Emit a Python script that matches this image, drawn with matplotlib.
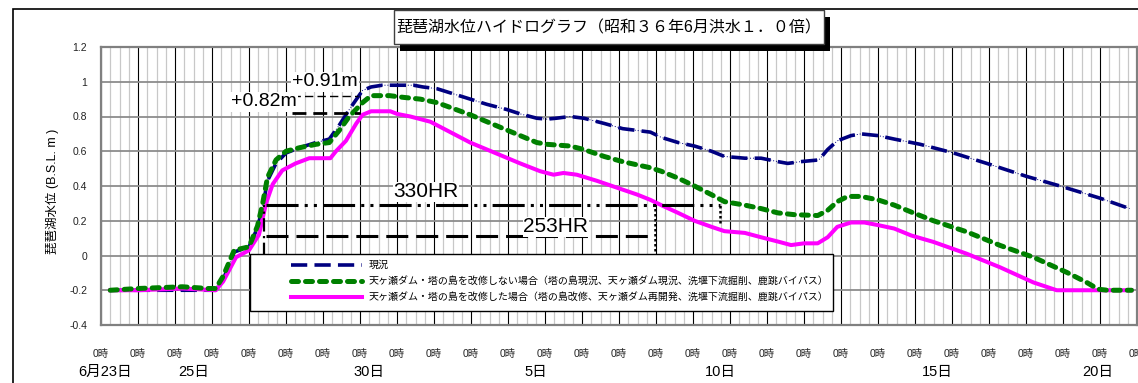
import matplotlib.pyplot as plt
import numpy as np
from matplotlib.patches import Rectangle

plt.rcParams['font.family'] = ['Liberation Sans', 'Noto Sans CJK JP']

# days counted from 6/23 0:00, levels in B.S.L. m
now_days = [0.25, 1.0, 2.0, 3.1, 3.3, 3.6, 4.0, 4.23, 4.37, 4.5, 4.73, 5.0, 5.36, 5.81,
            6.17, 6.44, 6.71, 7.07, 7.3, 7.6, 8.0, 8.45, 8.7, 9.08, 9.53, 9.98, 10.43,
            10.97, 11.33, 11.78, 12.05, 12.3, 12.68, 13.05, 13.6, 14.1, 14.85, 15.14,
            15.6, 16.04, 16.5, 16.85, 17.4, 17.84, 18.3, 18.56, 18.9, 19.4, 19.64, 19.9,
            20.27, 20.54, 21.0, 21.44, 22.14, 23.04, 23.94, 25.02, 25.92, 27.0, 27.8]
now_level = [-0.2, -0.2, -0.2, -0.2, -0.14, 0.02, 0.05, 0.16, 0.28, 0.43, 0.53, 0.59,
             0.62, 0.65, 0.67, 0.75, 0.84, 0.95, 0.97, 0.98, 0.98, 0.98, 0.97, 0.96,
             0.93, 0.9, 0.87, 0.84, 0.815, 0.79, 0.785, 0.79, 0.8, 0.79, 0.76, 0.73,
             0.71, 0.68, 0.65, 0.63, 0.6, 0.57, 0.56, 0.56, 0.54, 0.53, 0.54, 0.55,
             0.61, 0.66, 0.69, 0.7, 0.69, 0.67, 0.64, 0.59, 0.53, 0.455, 0.4, 0.33, 0.27]

plan_a_days = [0.25, 1.0, 1.6, 2.2, 2.9, 3.1, 3.3, 3.6, 4.0, 4.23, 4.37, 4.5, 4.73, 5.0,
               5.36, 5.81, 6.17, 6.44, 6.71, 7.07, 7.3, 7.8, 8.18, 8.63, 9.08, 9.53,
               9.98, 10.43, 10.88, 11.33, 11.78, 12.05, 12.68, 13.05, 13.6, 14.1, 14.85,
               15.14, 15.6, 16.04, 16.5, 16.85, 17.4, 17.84, 18.3, 18.74, 19.37, 19.64,
               19.9, 20.18, 20.54, 21.0, 21.44, 21.9, 22.5, 23.4, 24.3, 25.2, 26.1,
               26.64, 26.95, 27.2, 27.85]
plan_a_level = [-0.2, -0.19, -0.185, -0.18, -0.19, -0.19, -0.12, 0.03, 0.05, 0.17, 0.3,
                0.45, 0.55, 0.6, 0.62, 0.64, 0.65, 0.72, 0.8, 0.88, 0.92, 0.92, 0.91,
                0.9, 0.88, 0.845, 0.81, 0.77, 0.73, 0.69, 0.65, 0.64, 0.63, 0.61, 0.57,
                0.54, 0.505, 0.485, 0.445, 0.4, 0.35, 0.31, 0.29, 0.27, 0.245, 0.235,
                0.23, 0.26, 0.31, 0.34, 0.34, 0.32, 0.29, 0.25, 0.2, 0.136, 0.058,
                -0.01, -0.097, -0.155, -0.194, -0.2, -0.2]

plan_b_days = [0.25, 1.0, 2.2, 3.1, 3.3, 3.65, 4.0, 4.27, 4.46, 4.64, 4.9, 5.26, 5.63,
               6.2, 6.35, 6.62, 6.9, 7.07, 7.3, 7.82, 8.0, 8.36, 8.9, 9.35, 9.98, 10.43,
               10.88, 11.33, 11.87, 12.23, 12.5, 12.86, 13.4, 13.95, 14.5, 14.85, 15.14,
               15.6, 16.04, 16.5, 16.85, 17.4, 17.84, 18.3, 18.65, 19.0, 19.37, 19.64,
               19.9, 20.27, 20.63, 21.0, 21.44, 21.9, 22.5, 23.4, 24.3, 25.2, 25.83, 27.85]
plan_b_level = [-0.2, -0.2, -0.19, -0.2, -0.15, -0.01, 0.03, 0.12, 0.3, 0.41, 0.49, 0.53,
                0.56, 0.56, 0.6, 0.66, 0.76, 0.81, 0.83, 0.83, 0.815, 0.8, 0.77, 0.72,
                0.65, 0.61, 0.57, 0.53, 0.485, 0.465, 0.475, 0.465, 0.43, 0.39, 0.35,
                0.32, 0.29, 0.245, 0.2, 0.165, 0.14, 0.13, 0.105, 0.08, 0.06, 0.07, 0.07,
                0.105, 0.165, 0.19, 0.19, 0.175, 0.155, 0.115, 0.078, 0.01, -0.068,
                -0.155, -0.2, -0.2]

series_names = ['現況',
                '天ヶ瀬ダム・塔の島を改修しない場合（塔の島現況、天ヶ瀬ダム現況、洗堰下流掘削、鹿跳バイパス）',
                '天ヶ瀬ダム・塔の島を改修した場合（塔の島改修、天ヶ瀬ダム再開発、洗堰下流掘削、鹿跳バイパス）']

date_days = [0, 2, 7, 12, 17, 22, 27]
date_labels = ['6月23日', '25日', '30日', '5日', '10日', '15日', '20日']
date_nudge = [0.1, 0.5, 0.25, -0.25, -0.25, 0.6, -0.05]

y_ticks = [-0.4, -0.2, 0, 0.2, 0.4, 0.6, 0.8, 1.0, 1.2]
y_tick_labels = ['-0.4', '-0.2', '0', '0.2', '0.4', '0.6', '0.8', '1', '1.2']

peak_a, peak_b = 0.91, 0.82
dur_long, dur_short = 330, 253
dur_long_level, dur_short_level = 0.29, 0.11
dur_start, dur_long_end, dur_short_end = 4.45, 16.73, 14.97

W, H = 1138, 383
fig = plt.figure(figsize=(W / 100, H / 100), dpi=100)
ax = fig.add_axes([101 / W, 1 - 325 / H, 1036 / W, 278 / H])

ax.set_xlim(0, 28)
ax.set_ylim(-0.4, 1.2)
ax.set_xticks(np.arange(0, 29, 1))
ax.set_xticklabels(['0時'] * 29, fontsize=7.5, color='#222222')
ax.set_xticks(np.arange(0, 28.01, 0.25), minor=True)
ax.set_yticks(y_ticks)
ax.set_yticklabels(y_tick_labels, fontsize=7.5, color='#222222')
ax.tick_params(which='both', length=0)
ax.tick_params(axis='x', pad=17)
ax.tick_params(axis='y', pad=10)

ax.grid(which='minor', axis='x', color='#c8c8c8', lw=0.9, zorder=0)
ax.grid(which='major', axis='x', color='black', lw=0.8, zorder=0)
ax.grid(which='major', axis='y', color='#8c8c8c', lw=1.3, zorder=0)
ax.set_axisbelow(True)
for sp in ax.spines.values():
    sp.set_color('#808080')
    sp.set_linewidth(1.6)

for d, lab, nd in zip(date_days, date_labels, date_nudge):
    ax.text(d + nd, -0.169, lab, transform=ax.get_xaxis_transform(),
            ha='center', va='center', fontsize=10.5, clip_on=False)

# hydrographs
ax.plot(now_days, now_level, color='#000080', lw=0.7, ls=(0, (1, 2)), zorder=3)
h_now, = ax.plot(now_days, now_level, color='#000080', lw=2.6, ls=(0, (4.5, 2)), zorder=3)
h_b, = ax.plot(plan_b_days, plan_b_level, color='#ff00ff', lw=2.9, zorder=3)
h_a, = ax.plot(plan_a_days, plan_a_level, color='#008000', lw=3.6,
               ls=(0, (1.4, 1.4)), dash_capstyle='round', zorder=3)

# peak difference marks
ax.plot([5.15, 7.0], [peak_b, peak_b], color='black', lw=2.0, ls=(0, (5, 2.5)), zorder=4)
ax.plot([5.15, 6.95], [peak_a + 0.01, peak_a + 0.01], color='black', lw=1.0,
        ls=(0, (6, 3)), zorder=4)
ax.text(6.05, 1.0, f'+{peak_a:.2f}m', fontsize=14, ha='center', va='center', zorder=5,
        bbox=dict(fc='white', ec='none', pad=1))
ax.text(4.41, 0.885, f'+{peak_b:.2f}m', fontsize=14, ha='center', va='center', zorder=5,
        bbox=dict(fc='white', ec='none', pad=1))

# duration above B.S.L. +0.3 m
ax.plot([dur_start, dur_long_end], [dur_long_level] * 2, color='black', lw=2.2,
        ls=(0, (10.5, 2, 1, 2, 1, 2)), zorder=4)
ax.plot([dur_start, dur_short_end], [dur_short_level] * 2, color='black', lw=2.2,
        ls=(0, (7.2, 2.6)), zorder=4)
ax.plot([dur_start - 0.05] * 2, [0, dur_long_level], color='black', lw=1.6,
        ls=(0, (6, 2, 1, 2)), zorder=4)
ax.plot([dur_short_end] * 2, [0, dur_long_level], color='black', lw=1.8,
        ls=(0, (1, 1)), zorder=4)
ax.plot([dur_long_end] * 2, [0.185, dur_long_level], color='black', lw=1.8,
        ls=(0, (1, 1)), zorder=4)
ax.text(8.78, 0.367, f'{dur_long}HR', fontsize=15, ha='center', va='center', zorder=5,
        bbox=dict(fc='white', ec='none', pad=0.5))
ax.text(12.29, 0.166, f'{dur_short}HR', fontsize=15, ha='center', va='center', zorder=5,
        bbox=dict(fc='white', ec='none', pad=0.5))

# legend panel
ax.add_patch(Rectangle((4.03, -0.322), 15.75, 0.328, facecolor='white',
                       edgecolor='black', lw=1.0, zorder=6))
leg = ax.legend([h_now, h_a, h_b], series_names, loc='upper left',
                bbox_to_anchor=(291 / W, 1 - 260 / H), bbox_transform=fig.transFigure,
                frameon=False, fontsize=7.2, handlelength=7.1, handletextpad=0.7,
                labelspacing=0.6, borderpad=0, borderaxespad=0)
leg.set_zorder(7)

fig.text(52 / W, 1 - 191 / H, '琵琶湖水位 (B.S.L. m )', rotation=90, fontsize=9,
         ha='center', va='center')

# chart frame and title box
fig.patches.append(Rectangle((13 / W, -0.1), 1.2, 1.1 - 9 / H, transform=fig.transFigure,
                             facecolor='none', edgecolor='black', lw=1.2))
fig.patches.append(Rectangle((400 / W, 1 - 51 / H), 430 / W, 34 / H,
                             transform=fig.transFigure, facecolor='black',
                             edgecolor='black', lw=0))
fig.patches.append(Rectangle((394 / W, 1 - 44 / H), 430 / W, 34 / H,
                             transform=fig.transFigure, facecolor='white',
                             edgecolor='#404040', lw=1.0))
fig.text(609 / W, 1 - 28 / H, '琵琶湖水位ハイドログラフ（昭和３６年6月洪水１．０倍）',
         fontsize=11.5, ha='center', va='center')

plt.savefig('out.png', dpi=100)
